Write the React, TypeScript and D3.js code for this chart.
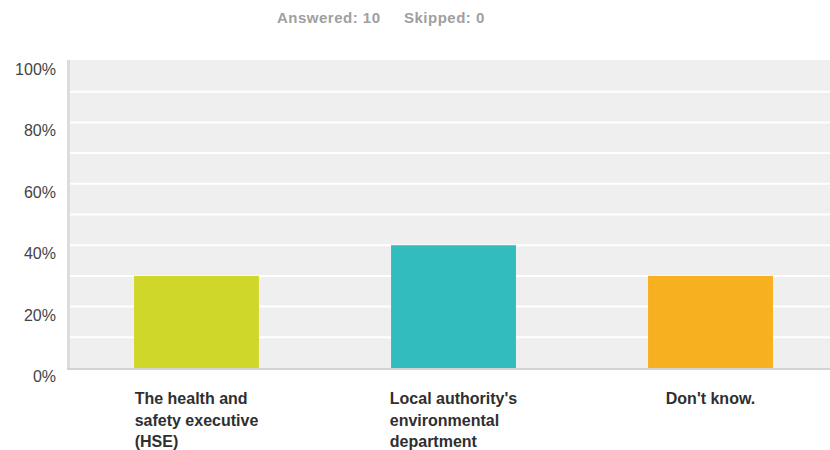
import React, { useEffect, useRef } from "react";
import * as d3 from "d3";

const categories = [
  "The health and safety executive (HSE)",
  "Local authority's environmental department",
  "Don't know.",
];
const values = [0.3, 0.4, 0.3];
const colors = ["#cfd72a", "#33bcbd", "#f6b020"];
const yTicks = [0, 0.2, 0.4, 0.6, 0.8, 1.0];
const gridTicks = [0.1, 0.2, 0.3, 0.4, 0.5, 0.6, 0.7, 0.8, 0.9];
const answered = 10;
const skipped = 0;

const W = 830;
const H = 450;
const FONT = "'Liberation Sans', Arial, Helvetica, sans-serif";

export default function App() {
  const ref = useRef<SVGSVGElement | null>(null);

  useEffect(() => {
    const svg = d3.select(ref.current);
    svg.selectAll("*").remove();

    const plotLeft = 70;
    const plotRight = 830;
    const plotTop = 60;
    const plotBottom = 368;

    const x = d3
      .scaleBand<string>()
      .domain(categories)
      .range([68, 839])
      .paddingInner(0.514)
      .paddingOuter(0.257);
    const y = d3.scaleLinear().domain([0, 1]).range([plotBottom, 61]);

    // header
    svg
      .append("text")
      .attr("x", 277)
      .attr("y", 23)
      .attr("font-family", FONT)
      .attr("font-size", 15)
      .attr("letter-spacing", 0.5)
      .attr("font-weight", "bold")
      .attr("fill", "#a0a0a0")
      .text(`Answered: ${answered}`);
    svg
      .append("text")
      .attr("x", 404)
      .attr("y", 23)
      .attr("font-family", FONT)
      .attr("font-size", 15)
      .attr("letter-spacing", 0.5)
      .attr("font-weight", "bold")
      .attr("fill", "#a0a0a0")
      .text(`Skipped: ${skipped}`);

    // plot background
    svg
      .append("rect")
      .attr("x", plotLeft)
      .attr("y", plotTop)
      .attr("width", plotRight - plotLeft)
      .attr("height", plotBottom - plotTop)
      .attr("fill", "#efefef");

    // grid lines
    svg
      .append("g")
      .selectAll("line")
      .data(gridTicks)
      .join("line")
      .attr("x1", plotLeft)
      .attr("x2", plotRight)
      .attr("y1", (d) => y(d))
      .attr("y2", (d) => y(d))
      .attr("stroke", "#ffffff")
      .attr("stroke-width", 2);

    // left axis line
    svg
      .append("rect")
      .attr("x", 67)
      .attr("y", plotTop)
      .attr("width", 3)
      .attr("height", plotBottom - plotTop + 2)
      .attr("fill", "#dcdcdc");
    // bottom axis line
    svg
      .append("rect")
      .attr("x", 67)
      .attr("y", plotBottom)
      .attr("width", plotRight - 67)
      .attr("height", 2)
      .attr("fill", "#d2d2d2");

    // bars
    svg
      .append("g")
      .selectAll("rect")
      .data(categories)
      .join("rect")
      .attr("x", (d) => x(d)!)
      .attr("width", x.bandwidth())
      .attr("y", (_, i) => y(values[i]))
      .attr("height", (_, i) => plotBottom - y(values[i]))
      .attr("fill", (_, i) => colors[i]);

    // y labels
    svg
      .append("g")
      .selectAll("text")
      .data(yTicks)
      .join("text")
      .attr("x", 56)
      .attr("y", (d) => y(d) + 14)
      .attr("text-anchor", "end")
      .attr("font-family", FONT)
      .attr("font-size", 16)
      .attr("fill", "#444444")
      .text((d) => `${Math.round(d * 100)}%`);

    // category labels, wrapped, block centered, lines left aligned
    const maxW = 140;
    categories.forEach((cat) => {
      const g = svg.append("g");
      const t = g
        .append("text")
        .attr("font-family", FONT)
        .attr("font-size", 16)
        .attr("font-weight", "bold")
        .attr("fill", "#2f2f2f");
      const words = cat.split(/\s+/);
      const lines: string[] = [];
      let cur: string[] = [];
      const probe = t.append("tspan");
      words.forEach((w) => {
        const test = [...cur, w].join(" ");
        probe.text(test);
        if ((probe.node() as SVGTSpanElement).getComputedTextLength() > maxW && cur.length) {
          lines.push(cur.join(" "));
          cur = [w];
        } else {
          cur.push(w);
        }
      });
      if (cur.length) lines.push(cur.join(" "));
      probe.remove();
      let widest = 0;
      const spans = lines.map((ln, i) => {
        const s = t
          .append("tspan")
          .attr("y", 404 + i * 21.5)
          .text(ln);
        widest = Math.max(widest, (s.node() as SVGTSpanElement).getComputedTextLength());
        return s;
      });
      const cx = x(cat)! + x.bandwidth() / 2;
      const left = cx - widest / 2;
      spans.forEach((s) => s.attr("x", left));
    });
  }, []);

  return (
    <svg
      ref={ref}
      width={W}
      height={H}
      style={{ position: "absolute", left: 0, top: 0, background: "#ffffff" }}
    />
  );
}
